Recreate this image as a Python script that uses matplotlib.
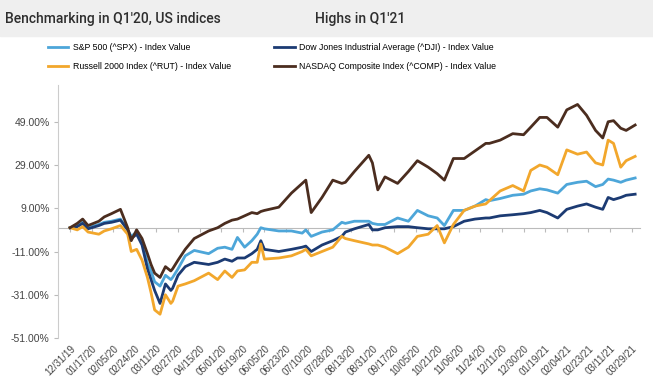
import numpy as np
import matplotlib.pyplot as plt
from matplotlib.patches import Rectangle

# trading-day index (0 = 12/31/19) of each sampled point
day_idx = [0, 4, 7, 10, 16, 19, 23, 28, 32, 34, 37, 40, 43, 45, 47, 50, 53, 56, 57, 60,
           64, 69, 77, 82, 86, 90, 93, 97, 101, 104, 106, 108, 116, 123, 129, 131, 134, 140,
           146, 151, 153, 158, 166, 168, 171, 175, 182, 188, 193, 199, 204, 208, 213, 219,
           225, 231, 233, 239, 246, 252, 256, 261, 265, 271, 276, 282, 287, 292, 296, 299,
           302, 306, 309, 314]

# % change since 12/31/19
spx = [0, 1, 2.5, 0, 1.5, 2.5, 3, 4, -1, -4, -2, -6, -16.5, -20, -25, -27, -22, -24, -23, -19,
       -13, -10.5, -12, -9.5, -9, -10, -4.5, -9, -6, -3, 0, -0.5, -1.5, -1.5, -2.5, -1, -4, -2,
       -1, 2.5, 2, 3, 3, 2, 1.5, 1.5, 4.5, 3, 8, 5.5, 4.5, 1, 8, 8,
       10, 13, 12.5, 13.5, 15, 15.5, 17, 18, 17.5, 16, 20, 21, 21.5, 19, 20, 22.5,
       22, 21, 22, 23]

dji = [0, 0.5, 2, -0.5, 1, 2, 2.5, 3.5, -1, -5, -3, -8, -19, -24, -29, -35, -26, -29, -28, -22,
       -18, -16, -17, -16, -14.5, -15.5, -14, -14, -12, -10, -6, -10, -11, -10, -9, -8.5, -11, -8,
       -6, -4, -2, -0.5, 1.5, -1, -1, 0, 0.5, 0.5, 0, -0.5, -0.5, -0.5, 0.5, 3,
       4, 4.5, 4.5, 5.5, 6, 6.5, 7, 8, 7, 4.5, 8.5, 10, 11, 9.5, 8.5, 14,
       13, 14, 15, 15.5]

rut = [0, -1, 0.5, -2, -3, -1.5, -0.5, 1, -3, -11, -10, -15, -23, -30, -38, -40, -31, -35, -34, -27,
       -26, -24.5, -21, -24, -20, -23, -20, -19.5, -16, -16, -7.5, -14.5, -14, -13, -11, -10, -13, -11,
       -9, -4, -5, -6, -7.5, -8, -8, -9, -12, -9, -4, -3, 1, -7, 1.5, 8,
       10, 11, 12.5, 17, 19.5, 17, 26.5, 29, 28, 24.5, 36, 34, 35, 30, 29, 40.5,
       39, 28, 31, 33]

comp = [0, 2, 4, 1, 3, 5, 6.5, 8.5, 0, -6, -1, -5, -12, -17, -21, -23, -18, -20, -19, -15,
        -10, -5, -1.5, 0, 2, 3.5, 4, 5.5, 7, 6.5, 7.5, 8, 9.5, 16, 20.5, 22, 7, 14,
        22, 20.5, 21, 26, 33.5, 30, 17.5, 23.5, 20.5, 26, 31, 28, 25, 22, 32, 32,
        35.5, 39, 39, 40.5, 43.5, 43, 46.5, 51, 51, 46.5, 54.5, 57, 52, 45, 41.5, 49,
        49.5, 46, 45, 47.5]

tick_labels = ['12/31/19', '01/17/20', '02/05/20', '02/24/20', '03/11/20', '03/27/20',
               '04/15/20', '05/01/20', '05/19/20', '06/05/20', '06/23/20', '07/10/20',
               '07/28/20', '08/13/20', '08/31/20', '09/17/20', '10/05/20', '10/21/20',
               '11/06/20', '11/24/20', '12/11/20', '12/30/20', '01/19/21', '02/04/21',
               '02/23/21', '03/11/21', '03/29/21']
tick_pos = np.arange(len(tick_labels)) * 12
y_ticks = [-51, -31, -11, 9, 29, 49]

plt.rcParams['font.family'] = ['Liberation Sans', 'DejaVu Sans']

fig = plt.figure(figsize=(6.53, 3.89), dpi=100)
fig.patches.append(Rectangle((0, 1 - 36/389), 1, 36/389, transform=fig.transFigure,
                             color='#efefef', zorder=0))
fig.text(5/653, 1 - 19/389, "Benchmarking in Q1'20, US indices", fontsize=10,
         color='#2e2e2e', va='center', ha='left', family='Roboto', weight='medium')
fig.text(315/653, 1 - 19/389, "Highs in Q1'21", fontsize=10,
         color='#2e2e2e', va='center', ha='left', family='Roboto', weight='medium')

ax = fig.add_axes([58/653, 1 - 338/389, 582/653, 253/389])

lw = 2.0
ax.plot(day_idx, spx, color='#4da6d9', lw=lw, label='S&P 500 (^SPX) - Index Value')
ax.plot(day_idx, dji, color='#1c3b73', lw=lw, label='Dow Jones Industrial Average (^DJI) - Index Value')
ax.plot(day_idx, rut, color='#f2a72c', lw=lw, label='Russell 2000 Index (^RUT) - Index Value')
ax.plot(day_idx, comp, color='#4b2d1f', lw=lw, label='NASDAQ Composite Index (^COMP) - Index Value')

ax.set_xlim(-6.7, 316.7)
ax.set_ylim(-51, 66)

ax.set_yticks(y_ticks)
ax.set_yticklabels([f'{v:.2f}%' for v in y_ticks])
ax.tick_params(axis='y', length=3, color='#bbbbbb', labelsize=7.5, labelcolor='#444444', pad=3)

# x axis line sits at zero, labels at the bottom
ax.spines['bottom'].set_position(('data', 0))
ax.spines['bottom'].set_color('#bbbbbb')
ax.spines['bottom'].set_zorder(0)
ax.set_xticks(tick_pos)
ax.tick_params(axis='x', length=3, color='#bbbbbb', labelbottom=False)
sec = ax.secondary_xaxis('bottom')
sec.spines['bottom'].set_visible(False)
sec.set_xticks(tick_pos)
sec.set_xticklabels(tick_labels, rotation=45, ha='right', rotation_mode='anchor')
sec.tick_params(axis='x', length=0, labelsize=7, labelcolor='#444444', pad=4)

ax.spines['left'].set_color('#cccccc')
ax.spines['top'].set_visible(False)
ax.spines['right'].set_visible(False)

handles, labels = ax.get_legend_handles_labels()
order = [0, 2, 1, 3]
fig.legend([handles[i] for i in order], [labels[i] for i in order], ncol=2,
           loc='center', bbox_to_anchor=(272/653, 1 - 57/389), frameon=False,
           fontsize=6.3, handlelength=2.3, columnspacing=5, labelspacing=1.1,
           handletextpad=0.5)

fig.savefig('out.png', dpi=100)
